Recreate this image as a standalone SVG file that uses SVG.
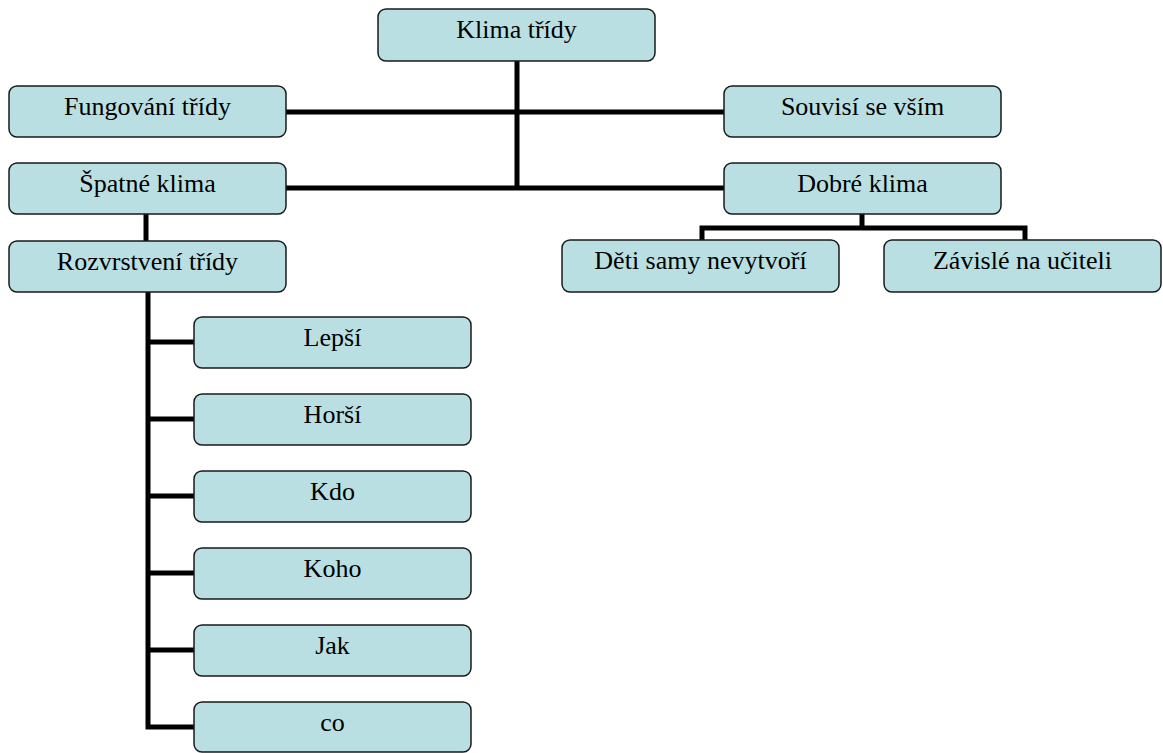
<svg xmlns="http://www.w3.org/2000/svg" width="1163" height="753" viewBox="0 0 1163 753">
  <defs>
    <style>
      .box { fill: #badfe2; stroke: #1a1a1a; stroke-width: 1.5; }
      .wire { fill: none; stroke: #000; stroke-width: 5; stroke-linejoin: miter; stroke-linecap: butt; }
    </style>
  </defs>
  <rect width="1163" height="753" fill="#fff"/>

  <!-- connectors -->
  <g id="connectors">
    <path class="wire" d="M517 61 V190"/>
    <path class="wire" d="M286 112 H724"/>
    <path class="wire" d="M286 188 H724"/>
    <path class="wire" d="M146 214 V241"/>
    <path class="wire" d="M862 214 V228 M702 240 V228 H1025 V240"/>
    <path class="wire" d="M148 292 V727 H194"/>
    <path class="wire" d="M148 342 H194 M148 419 H194 M148 496 H194 M148 573 H194 M148 650 H194"/>
  </g>

  <g id="klima-tridy">
    <rect class="box" x="378" y="9" width="277" height="52" rx="8"/>
    <text font-family="Liberation Serif" font-size="26" text-anchor="middle" x="516.5" y="38">Klima třídy</text>
  </g>
  <g id="fungovani-tridy">
    <rect class="box" x="9" y="86" width="277" height="51" rx="8"/>
    <text font-family="Liberation Serif" font-size="26" text-anchor="middle" x="147.5" y="115">Fungování třídy</text>
  </g>
  <g id="souvisi-se-vsim">
    <rect class="box" x="724" y="86" width="277" height="51" rx="8"/>
    <text font-family="Liberation Serif" font-size="26" text-anchor="middle" x="862.5" y="115">Souvisí se vším</text>
  </g>
  <g id="spatne-klima">
    <rect class="box" x="9" y="163" width="277" height="51" rx="8"/>
    <text font-family="Liberation Serif" font-size="26" text-anchor="middle" x="147.5" y="192">Špatné klima</text>
  </g>
  <g id="dobre-klima">
    <rect class="box" x="724" y="163" width="277" height="51" rx="8"/>
    <text font-family="Liberation Serif" font-size="26" text-anchor="middle" x="862.5" y="192">Dobré klima</text>
  </g>
  <g id="rozvrstveni-tridy">
    <rect class="box" x="9" y="241" width="277" height="51" rx="8"/>
    <text font-family="Liberation Serif" font-size="26" text-anchor="middle" x="147.5" y="270">Rozvrstvení třídy</text>
  </g>
  <g id="deti-samy">
    <rect class="box" x="562" y="240" width="277" height="52" rx="8"/>
    <text font-family="Liberation Serif" font-size="26" text-anchor="middle" x="700.5" y="269">Děti samy nevytvoří</text>
  </g>
  <g id="zavisle-na-uciteli">
    <rect class="box" x="884" y="240" width="277" height="52" rx="8"/>
    <text font-family="Liberation Serif" font-size="26" text-anchor="middle" x="1022.5" y="269">Závislé na učiteli</text>
  </g>
  <g id="lepsi">
    <rect class="box" x="194" y="317" width="277" height="51" rx="8"/>
    <text font-family="Liberation Serif" font-size="26" text-anchor="middle" x="332.5" y="346">Lepší</text>
  </g>
  <g id="horsi">
    <rect class="box" x="194" y="394" width="277" height="51" rx="8"/>
    <text font-family="Liberation Serif" font-size="26" text-anchor="middle" x="332.5" y="423">Horší</text>
  </g>
  <g id="kdo">
    <rect class="box" x="194" y="471" width="277" height="51" rx="8"/>
    <text font-family="Liberation Serif" font-size="26" text-anchor="middle" x="332.5" y="500">Kdo</text>
  </g>
  <g id="koho">
    <rect class="box" x="194" y="548" width="277" height="51" rx="8"/>
    <text font-family="Liberation Serif" font-size="26" text-anchor="middle" x="332.5" y="577">Koho</text>
  </g>
  <g id="jak">
    <rect class="box" x="194" y="625" width="277" height="51" rx="8"/>
    <text font-family="Liberation Serif" font-size="26" text-anchor="middle" x="332.5" y="654">Jak</text>
  </g>
  <g id="co">
    <rect class="box" x="194" y="702" width="277" height="50" rx="8"/>
    <text font-family="Liberation Serif" font-size="26" text-anchor="middle" x="332.5" y="731">co</text>
  </g>
</svg>
